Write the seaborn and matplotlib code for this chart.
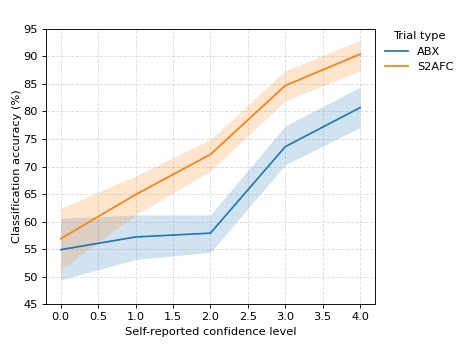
import numpy as np
import pandas as pd
import matplotlib
matplotlib.use("Agg")
import matplotlib.pyplot as plt
import seaborn as sns

confidence = [0, 1, 2, 3, 4]

abx_mean = [54.9, 57.2, 57.9, 73.6, 80.7]
abx_low = [49.4, 53.1, 54.4, 70.3, 77.1]
abx_high = [60.6, 61.2, 61.2, 77.4, 84.4]

s2afc_mean = [56.9, 64.9, 72.2, 84.7, 90.4]
s2afc_low = [51.3, 61.2, 69.2, 81.9, 87.4]
s2afc_high = [62.4, 68.3, 74.9, 87.4, 92.9]

trial_types = ["ABX", "S2AFC"]

df = pd.DataFrame({
    "Self-reported confidence level": confidence * 2,
    "Classification accuracy (%)": abx_mean + s2afc_mean,
    "Trial type": ["ABX"] * 5 + ["S2AFC"] * 5,
})

colors = {"ABX": "#1f77b4", "S2AFC": "#ff7f0e"}
bands = {"ABX": (abx_low, abx_high), "S2AFC": (s2afc_low, s2afc_high)}

dpi = 82
fig, ax = plt.subplots(figsize=(463 / dpi, 348 / dpi), dpi=dpi)
fig.subplots_adjust(left=0.099, right=0.81, top=0.917, bottom=0.126)

sns.lineplot(
    data=df,
    x="Self-reported confidence level",
    y="Classification accuracy (%)",
    hue="Trial type",
    hue_order=trial_types,
    palette=colors,
    errorbar=None,
    linewidth=1.5,
    ax=ax,
)

# confidence bands
for t in trial_types:
    low, high = bands[t]
    ax.fill_between(confidence, low, high, color=colors[t], alpha=0.2, linewidth=0)

ax.set_ylim(45, 95)
ax.set_yticks(range(45, 96, 5))
ax.set_xticks(np.arange(0, 4.01, 0.5))
ax.yaxis.labelpad = 1.5
ax.grid(True, linestyle="--", alpha=0.4)
ax.set_axisbelow(True)

ax.legend(title="Trial type", loc="upper left", bbox_to_anchor=(1.0, 1.03), frameon=False)

fig.savefig("out.png", dpi=dpi)
